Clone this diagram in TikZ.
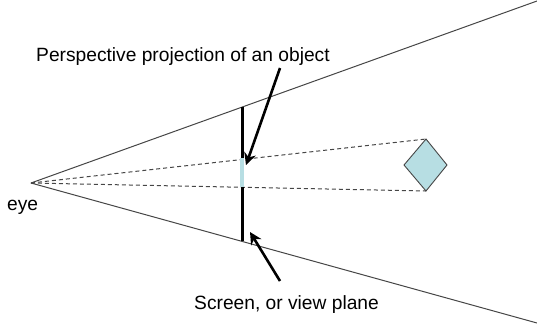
\documentclass[tikz,border=0pt]{standalone}
\usepackage{fontspec}
\setmainfont{Liberation Sans}
\usetikzlibrary{arrows.meta}
\definecolor{paleblue}{RGB}{183,222,227}
\definecolor{linegray}{RGB}{70,70,70}
\tikzset{
  label text/.style={inner sep=0pt,anchor=base west,font=\fontsize{19.2}{22}\selectfont,text=black},
  ray/.style={draw=linegray,line width=1pt},
  sight/.style={draw=linegray,line width=1pt,dash pattern=on 4pt off 3pt},
  pointer/.style={draw=black,line width=2.6pt,-{Stealth[length=12pt,width=12pt]}},
}
\begin{document}
\begin{tikzpicture}[x=1pt,y=-1pt]
\useasboundingbox (0,0) rectangle (537,330);
\fill[white] (0,0) rectangle (537,330);
\coordinate (eyept) at (31,183);
\coordinate (topend) at (537,1);
\coordinate (botend) at (537,323);
\coordinate (scrtop) at (242,107);
\coordinate (scrbot) at (242,241);
\coordinate (imgtop) at (242,158);
\coordinate (imgbot) at (242,187);
\coordinate (dtop) at (426,139);
\coordinate (dleft) at (404,165);
\coordinate (dright) at (447,165);
\coordinate (dbot) at (426,191);
\coordinate (p1start) at (280,68);
\coordinate (p1tip) at (246,165);
\coordinate (p2start) at (280,281);
\coordinate (p2tip) at (250,232);
\draw[ray] (eyept) -- (topend);
\draw[ray] (eyept) -- (botend);
\draw[sight] (eyept) -- (dtop);
\draw[sight] (eyept) -- (dbot);
\draw[line width=3pt,black] (scrtop) -- (scrbot);
\draw[line width=4.5pt,paleblue] (imgtop) -- (imgbot);
\filldraw[fill=paleblue,draw=linegray,line width=0.9pt] (dtop) -- (dright) -- (dbot) -- (dleft) -- cycle;
\draw[pointer] (p1start) -- (p1tip);
\draw[pointer] (p2start) -- (p2tip);
\node[label text] (t1) at (36,61) {Perspective projection of an object};
\node[label text] (t2) at (194,309) {Screen, or view plane};
\node[label text] (t3) at (7,210) {eye};
\end{tikzpicture}
\end{document}
